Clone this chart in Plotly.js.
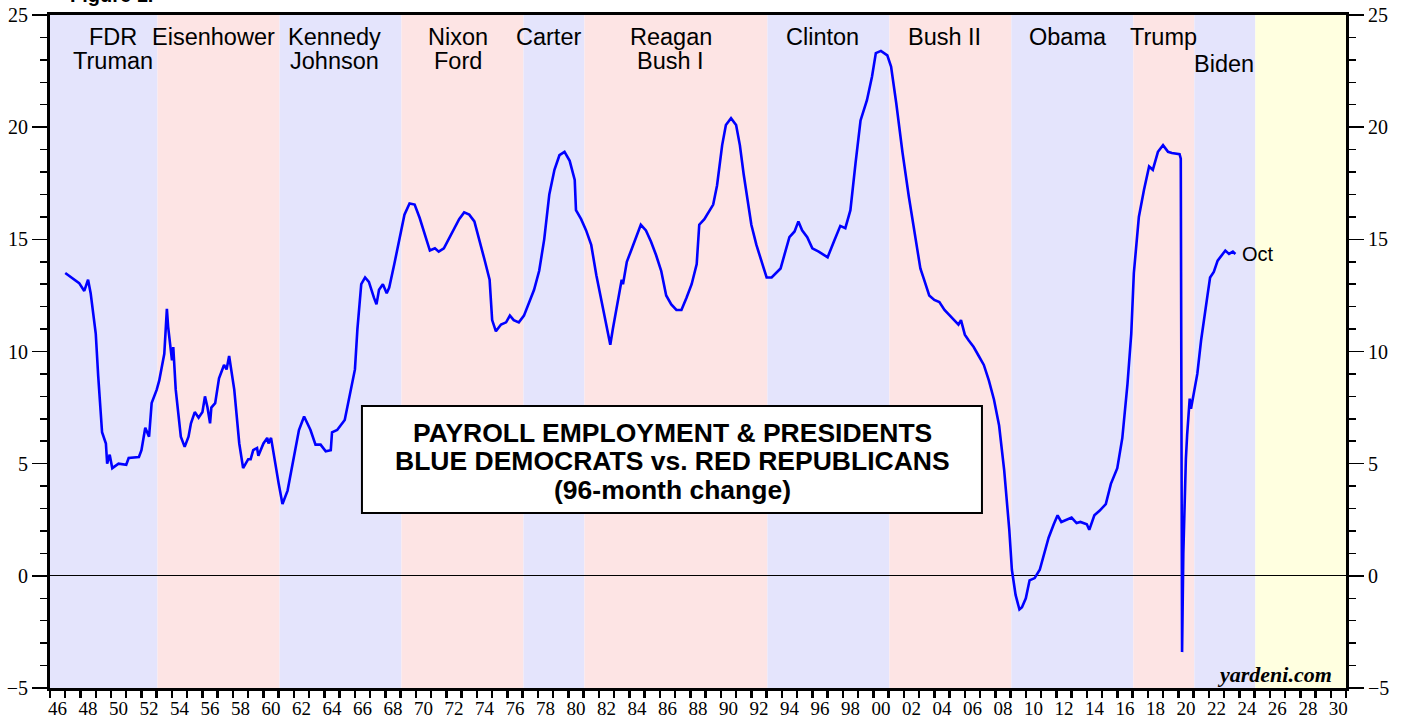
<!DOCTYPE html>
<html><head><meta charset="utf-8">
<script src="https://cdn.plot.ly/plotly-3.0.1.min.js"></script>
<style>html,body{margin:0;padding:0;background:#fff}#chart{width:1405px;height:719px}</style>
</head><body><div id="chart"></div>
<script>
// ---- data (96-month % change in payroll employment) ----
const months = [
'1947-01','1947-06','1947-12','1948-04','1948-07','1948-09','1949-01','1949-03','1949-06','1949-09','1949-10','1949-12',
'1950-02','1950-07','1951-01','1951-03','1951-11','1952-01','1952-04','1952-07','1952-09','1953-01','1953-03','1953-07',
'1953-09','1953-10','1954-01','1954-02','1954-04','1954-08','1954-11','1955-02','1955-04','1955-07','1955-10','1956-01',
'1956-03','1956-05','1956-07','1956-08','1956-11','1957-02','1957-06','1957-08','1957-10','1958-02','1958-06','1958-09',
'1959-01','1959-03','1959-05','1959-08','1959-09','1960-01','1960-04','1960-05','1960-07','1961-01','1961-04','1961-08',
'1961-12','1962-05','1962-09','1963-02','1963-06','1963-10','1964-02','1964-06','1964-07','1964-11','1965-05','1965-08',
'1966-01','1966-03','1966-06','1966-09','1966-12','1967-04','1967-06','1967-08','1967-11','1968-02','1968-04','1968-08',
'1968-12','1969-04','1969-08','1969-12','1970-04','1970-08','1970-12','1971-04','1971-07','1971-11','1972-03','1972-07',
'1972-11','1973-03','1973-07','1973-11','1974-03','1974-07','1974-11','1975-01','1975-04','1975-08','1975-12','1976-03',
'1976-06','1976-10','1977-02','1977-06','1977-10','1978-02','1978-06','1978-10','1979-02','1979-06','1979-10','1980-02',
'1980-06','1980-07','1980-11','1981-03','1981-07','1981-11','1982-03','1982-07','1982-10','1982-12','1983-04','1983-07',
'1983-08','1983-11','1984-02','1984-06','1984-10','1985-02','1985-06','1985-10','1986-02','1986-06','1986-10','1987-02',
'1987-06','1987-10','1988-02','1988-06','1988-08','1988-12','1989-04','1989-07','1989-10','1990-02','1990-05','1990-09',
'1991-01','1991-04','1991-07','1991-10','1992-01','1992-05','1992-09','1993-01','1993-05','1993-12','1994-07','1994-11',
'1995-02','1995-05','1995-09','1996-01','1996-06','1997-01','1997-06','1997-11','1998-03','1998-07','1998-11','1999-03',
'1999-08','1999-12','2000-03','2000-07','2000-12','2001-03','2001-07','2001-12','2002-05','2002-10','2003-02','2003-05',
'2003-09','2004-01','2004-05','2004-09','2005-01','2005-05','2005-08','2005-10','2006-01','2006-04','2006-08','2006-12',
'2007-04','2007-08','2007-12','2008-04','2008-08','2008-12','2009-02','2009-05','2009-08','2009-10','2010-01','2010-04',
'2010-08','2010-12','2011-04','2011-07','2011-11','2012-02','2012-05','2012-09','2013-01','2013-05','2013-08','2014-01',
'2014-03','2014-07','2014-11','2015-04','2015-08','2016-01','2016-05','2016-09','2016-12','2017-02','2017-06','2017-10',
'2018-02','2018-05','2018-09','2019-01','2019-05','2019-08','2020-02','2020-03','2020-04','2020-05','2020-06','2020-07',
'2020-08','2020-09','2020-10','2020-11','2021-02','2021-04','2021-07','2021-09','2021-12','2022-02','2022-05','2022-08',
'2022-10','2023-02','2023-05','2023-08','2023-10'
];
const payrollChange = [
13.5,13.3,13.05,12.7,13.2,12.6,10.8,8.9,6.4,5.9,5.0,5.4,
4.8,5.0,4.95,5.25,5.3,5.6,6.6,6.2,7.7,8.3,8.7,9.9,
11.9,11.1,9.6,10.2,8.3,6.2,5.75,6.2,6.8,7.3,7.05,7.3,
8.0,7.5,6.8,7.5,7.7,8.8,9.4,9.2,9.8,8.3,5.9,4.8,
5.2,5.2,5.6,5.7,5.35,5.9,6.15,5.9,6.15,4.1,3.2,3.8,
5.0,6.5,7.1,6.5,5.85,5.85,5.55,5.6,6.4,6.5,6.95,7.8,
9.2,11.0,13.0,13.3,13.1,12.4,12.1,12.75,13.0,12.6,12.85,13.9,
15.0,16.1,16.6,16.55,15.95,15.2,14.5,14.6,14.45,14.6,15.05,15.5,
15.9,16.2,16.1,15.8,15.0,14.1,13.2,11.4,10.9,11.2,11.3,11.6,
11.4,11.3,11.6,12.2,12.75,13.6,15.0,17.0,18.1,18.75,18.9,18.5,
17.65,16.3,15.9,15.4,14.75,13.4,12.3,11.2,10.3,11.0,12.3,13.2,
13.0,14.0,14.45,15.05,15.65,15.4,14.9,14.3,13.6,12.5,12.1,11.85,
11.85,12.4,13.0,13.9,15.65,15.9,16.3,16.55,17.4,19.2,20.1,20.4,
20.1,19.2,17.9,16.75,15.65,14.75,14.0,13.3,13.3,13.7,15.1,15.35,
15.8,15.4,15.1,14.6,14.45,14.2,14.9,15.6,15.5,16.3,18.4,20.3,
21.2,22.26,23.3,23.4,23.2,22.7,21.1,18.85,16.9,15.1,13.7,13.2,
12.5,12.3,12.2,11.85,11.6,11.4,11.2,11.4,10.75,10.5,10.2,9.8,
9.4,8.7,7.85,6.7,4.7,2.05,0.27,-0.85,-1.5,-1.4,-1.0,-0.2,
-0.1,0.27,1.15,1.7,2.3,2.7,2.4,2.5,2.6,2.35,2.4,2.3,
2.05,2.7,2.9,3.2,4.1,4.8,6.15,8.55,10.8,13.5,16.0,17.2,
18.25,18.1,18.9,19.2,18.9,18.85,18.8,18.6,-3.4,1.0,3.5,5.2,
6.3,7.3,7.9,7.45,8.4,9.0,10.5,11.4,12.5,13.3,13.55,14.05,
14.2,14.5,14.35,14.45,14.35
];
const lastMonthLabel = 'Oct';

// presidential terms (blue = Democrat, red = Republican, yellow = future)
const termStart = ['1946-01-01','1953-01-20','1961-01-20','1969-01-20','1977-01-20','1981-01-20','1993-01-20','2001-01-20','2009-01-20','2017-01-20','2021-01-20','2025-01-20'];
const termEnd   = ['1953-01-20','1961-01-20','1969-01-20','1977-01-20','1981-01-20','1993-01-20','2001-01-20','2009-01-20','2017-01-20','2021-01-20','2025-01-20','2031-01-01'];
const termParty = ['D','R','D','R','D','R','D','R','D','R','D','F'];
const presLabelX  = ['1950-02-15','1956-10-01','1964-09-10','1972-10-01','1978-09-20','1986-09-20','1996-09-10','2004-09-10','2012-10-01','2019-01-01','2023-01-01'];
const presLine1   = ['FDR','Eisenhower','Kennedy','Nixon','Carter','Reagan','Clinton','Bush II','Obama','Trump',''];
const presLine2   = ['Truman','','Johnson','Ford','','Bush I','','','','','Biden'];

// x tick labels (two-digit years, centred on mid-year)
const xTickYears  = [1946,1948,1950,1952,1954,1956,1958,1960,1962,1964,1966,1968,1970,1972,1974,1976,1978,1980,1982,1984,1986,1988,1990,1992,1994,1996,1998,2000,2002,2004,2006,2008,2010,2012,2014,2016,2018,2020,2022,2024,2026,2028,2030];
const xTickLabels = ['46','48','50','52','54','56','58','60','62','64','66','68','70','72','74','76','78','80','82','84','86','88','90','92','94','96','98','00','02','04','06','08','10','12','14','16','18','20','22','24','26','28','30'];

const titleLines = ['PAYROLL EMPLOYMENT & PRESIDENTS','BLUE DEMOCRATS vs. RED REPUBLICANS','(96-month change)'];

// ---- styling ----
const partyFill = {D:'rgb(228,228,252)', R:'rgb(253,228,228)', F:'rgb(255,255,224)'};
const SANS = 'Liberation Sans, Arial, sans-serif';
const SERIF = 'Liberation Serif, Times New Roman, serif';

const shapes = termStart.map((s,i)=>({
  type:'rect', xref:'x', yref:'paper', x0:s, x1:termEnd[i], y0:0, y1:1,
  fillcolor:partyFill[termParty[i]], line:{width:0}, layer:'below'
}));
// title box
shapes.push({type:'rect', xref:'paper', yref:'paper', x0:0.2407, x1:0.7191, y0:0.26, y1:0.419,
  fillcolor:'#fff', line:{color:'#000', width:2}, layer:'above'});

const annotations = [];
const line1Y = 0.9673, line2Y = 0.9316;
presLabelX.forEach((x,i)=>{
  if (presLine1[i]) annotations.push({x:x, xref:'x', y:line1Y, yref:'paper', text:presLine1[i], showarrow:false,
    xanchor:'center', yanchor:'middle', font:{family:SANS, size:23.5, color:'#000'}});
  if (presLine2[i]) annotations.push({x:x, xref:'x', y:(presLine1[i]?line2Y:0.9272), yref:'paper', text:presLine2[i], showarrow:false,
    xanchor:'center', yanchor:'middle', font:{family:SANS, size:23.5, color:'#000'}});
});
const titleY = [0.3789, 0.3373, 0.2942];
titleLines.forEach((t,i)=>annotations.push({x:0.48, xref:'paper', y:titleY[i], yref:'paper', text:'<b>'+t+'</b>',
  showarrow:false, xanchor:'center', yanchor:'middle', font:{family:SANS, size:26.5, color:'#000'}}));
annotations.push({x:months[months.length-1], xref:'x', y:payrollChange[payrollChange.length-1], yref:'y',
  text:lastMonthLabel, showarrow:false, xanchor:'left', yanchor:'middle', xshift:5,
  font:{family:SANS, size:20, color:'#000'}});
annotations.push({x:0.9907, xref:'paper', y:0.0208, yref:'paper', text:'<b><i>yardeni.com</i></b>', showarrow:false,
  xanchor:'right', yanchor:'middle', font:{family:SERIF, size:22, color:'#000'}});
annotations.push({x:0.0139, xref:'paper', y:1.0104, yref:'paper', text:'<b>Figure 1.</b>', showarrow:false,
  xanchor:'left', yanchor:'bottom', font:{family:SANS, size:20, color:'#000'}});

const yCommon = {
  range:[-5,25], tickmode:'linear', tick0:0, dtick:5, ticks:'outside', ticklen:15, tickwidth:1.5, tickcolor:'#000',
  tickfont:{family:SERIF, size:20, color:'#000'}, showgrid:false, showline:true, linewidth:3, linecolor:'#000',
  minor:{dtick:1, tick0:0, ticks:'outside', ticklen:7, tickwidth:1.5, tickcolor:'#000', showgrid:false},
  fixedrange:true
};

const layout = {
  width:1405, height:719,
  margin:{l:50, r:59, t:15, b:31},
  paper_bgcolor:'#fff', plot_bgcolor:'#fff',
  showlegend:false,
  xaxis:{
    type:'date', range:['1946-01-01','2031-01-01'],
    tickmode:'array', tickvals:xTickYears.map(y=>y+'-07-02'), ticktext:xTickLabels,
    ticks:'outside', ticklen:1, tickcolor:'rgba(0,0,0,0)', tickangle:0,
    tickfont:{family:SERIF, size:19, color:'#000'},
    minor:{ticks:'outside', dtick:'M12', tick0:'1946-01-01', ticklen:7, tickwidth:2.5, tickcolor:'#000', showgrid:false},
    showgrid:false, showline:true, linewidth:3, linecolor:'#000', mirror:true, zeroline:false
  },
  yaxis:Object.assign({}, yCommon, {side:'left', mirror:true, zeroline:true, zerolinecolor:'#000', zerolinewidth:1}),
  yaxis2:Object.assign({}, yCommon, {side:'right', overlaying:'y', zeroline:false}),
  shapes:shapes,
  annotations:annotations
};

const traces = [
  {x:months, y:payrollChange, type:'scatter', mode:'lines', line:{color:'#0000ff', width:2.6}, hoverinfo:'skip'},
  {x:months, y:payrollChange, type:'scatter', mode:'lines', yaxis:'y2', line:{color:'rgba(0,0,0,0)', width:0}, hoverinfo:'skip'}
];

Plotly.newPlot('chart', traces, layout, {displayModeBar:false, staticPlot:true});
</script>
</body></html>
